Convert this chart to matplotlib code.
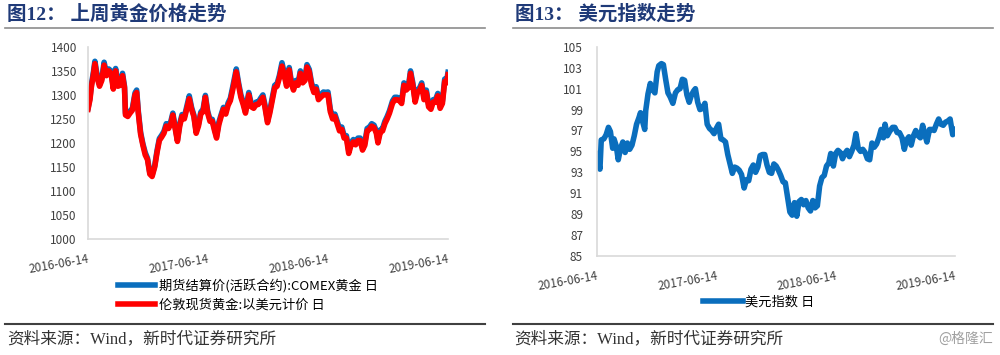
import pandas as pd
import matplotlib
matplotlib.use('Agg')
import matplotlib.pyplot as plt
import matplotlib.dates as mdates
from matplotlib.lines import Line2D

plt.rcParams['font.family'] = ['Noto Sans CJK SC', 'DejaVu Sans']

gold_dates = ['2016-06-14', '2016-06-20', '2016-06-24', '2016-07-01', '2016-07-05', '2016-07-12', '2016-07-19',
              '2016-07-26', '2016-08-02', '2016-08-09', '2016-08-16', '2016-08-23', '2016-08-30', '2016-09-06',
              '2016-09-13', '2016-09-20', '2016-09-27', '2016-10-03', '2016-10-06', '2016-10-13', '2016-10-20',
              '2016-10-27', '2016-11-04', '2016-11-09', '2016-11-14', '2016-11-21', '2016-11-28', '2016-12-05',
              '2016-12-12', '2016-12-19', '2016-12-26', '2017-01-03', '2017-01-10', '2017-01-17', '2017-01-24',
              '2017-01-31', '2017-02-07', '2017-02-14', '2017-02-21', '2017-02-27', '2017-03-06', '2017-03-13',
              '2017-03-20', '2017-03-27', '2017-04-03', '2017-04-10', '2017-04-18', '2017-04-25', '2017-05-02',
              '2017-05-09', '2017-05-16', '2017-05-23', '2017-05-30', '2017-06-06', '2017-06-13', '2017-06-20',
              '2017-06-27', '2017-07-04', '2017-07-10', '2017-07-17', '2017-07-24', '2017-07-31', '2017-08-07',
              '2017-08-14', '2017-08-21', '2017-08-28', '2017-09-08', '2017-09-15', '2017-09-22', '2017-09-29',
              '2017-10-06', '2017-10-16', '2017-10-24', '2017-10-31', '2017-11-07', '2017-11-14', '2017-11-21',
              '2017-11-28', '2017-12-04', '2017-12-12', '2017-12-19', '2017-12-27', '2018-01-03', '2018-01-10',
              '2018-01-17', '2018-01-25', '2018-02-01', '2018-02-08', '2018-02-16', '2018-02-22', '2018-03-01',
              '2018-03-08', '2018-03-15', '2018-03-22', '2018-03-29', '2018-04-05', '2018-04-11', '2018-04-18',
              '2018-04-25', '2018-05-02', '2018-05-09', '2018-05-16', '2018-05-23', '2018-05-31', '2018-06-07',
              '2018-06-14', '2018-06-21', '2018-06-28', '2018-07-05', '2018-07-12', '2018-07-19', '2018-07-26',
              '2018-08-02', '2018-08-09', '2018-08-16', '2018-08-23', '2018-08-30', '2018-09-06', '2018-09-13',
              '2018-09-20', '2018-09-27', '2018-10-04', '2018-10-11', '2018-10-18', '2018-10-25', '2018-11-01',
              '2018-11-08', '2018-11-13', '2018-11-20', '2018-11-27', '2018-12-04', '2018-12-11', '2018-12-18',
              '2018-12-27', '2019-01-03', '2019-01-10', '2019-01-17', '2019-01-24', '2019-01-31', '2019-02-07',
              '2019-02-14', '2019-02-20', '2019-02-27', '2019-03-06', '2019-03-13', '2019-03-20', '2019-03-26',
              '2019-04-02', '2019-04-09', '2019-04-16', '2019-04-23', '2019-04-30', '2019-05-07', '2019-05-14',
              '2019-05-21', '2019-05-28', '2019-06-04', '2019-06-10', '2019-06-14']

london_spot = [1270, 1290, 1315, 1345, 1365, 1335, 1318,
               1330, 1362, 1340, 1350, 1345, 1312, 1350,
               1318, 1320, 1340, 1315, 1258, 1255, 1262,
               1268, 1300, 1305, 1262, 1218, 1195, 1175,
               1165, 1135, 1130, 1150, 1180, 1205, 1212,
               1220, 1235, 1230, 1240, 1258, 1230, 1203,
               1235, 1255, 1250, 1270, 1292, 1270, 1255,
               1220, 1235, 1260, 1265, 1295, 1262, 1245,
               1245, 1225, 1210, 1238, 1255, 1270, 1260,
               1278, 1288, 1310, 1348, 1320, 1295, 1280,
               1262, 1300, 1275, 1272, 1280, 1280, 1288,
               1295, 1275, 1242, 1262, 1290, 1315, 1318,
               1335, 1360, 1340, 1318, 1352, 1325, 1310,
               1325, 1320, 1345, 1325, 1330, 1358, 1348,
               1320, 1305, 1312, 1290, 1295, 1300, 1300,
               1300, 1265, 1250, 1255, 1240, 1225, 1228,
               1210, 1210, 1178, 1195, 1202, 1196, 1205,
               1205, 1185, 1195, 1225, 1228, 1235, 1232,
               1220, 1200, 1222, 1225, 1240, 1250, 1262,
               1282, 1290, 1290, 1288, 1282, 1320, 1310,
               1315, 1345, 1320, 1285, 1305, 1310, 1320,
               1290, 1305, 1275, 1270, 1285, 1285, 1298,
               1272, 1282, 1328, 1325, 1342]

comex_gold = [1272, 1294, 1320, 1350, 1370, 1340, 1322,
              1334, 1368, 1345, 1354, 1350, 1316, 1355,
              1322, 1325, 1345, 1318, 1262, 1258, 1266,
              1272, 1304, 1310, 1266, 1222, 1198, 1180,
              1168, 1138, 1133, 1153, 1184, 1209, 1216,
              1224, 1240, 1234, 1245, 1262, 1234, 1206,
              1240, 1259, 1254, 1275, 1298, 1274, 1258,
              1224, 1239, 1264, 1270, 1299, 1266, 1249,
              1249, 1229, 1214, 1243, 1259, 1274, 1265,
              1283, 1293, 1316, 1354, 1325, 1300, 1285,
              1266, 1305, 1280, 1277, 1285, 1285, 1293,
              1300, 1280, 1246, 1267, 1296, 1320, 1323,
              1340, 1367, 1345, 1323, 1357, 1330, 1315,
              1330, 1325, 1350, 1330, 1335, 1363, 1353,
              1325, 1310, 1317, 1295, 1300, 1306, 1305,
              1306, 1270, 1255, 1260, 1245, 1230, 1233,
              1215, 1215, 1184, 1200, 1207, 1201, 1210,
              1210, 1190, 1200, 1230, 1233, 1240, 1237,
              1225, 1205, 1227, 1230, 1245, 1255, 1267,
              1287, 1295, 1295, 1293, 1287, 1325, 1315,
              1320, 1350, 1325, 1290, 1310, 1315, 1325,
              1295, 1310, 1280, 1275, 1290, 1290, 1303,
              1277, 1287, 1333, 1330, 1347]

dxy_dates = ['2016-06-14', '2016-06-17', '2016-06-23', '2016-06-27', '2016-07-05', '2016-07-12', '2016-07-19',
             '2016-07-25', '2016-08-01', '2016-08-05', '2016-08-12', '2016-08-18', '2016-08-25', '2016-09-01',
             '2016-09-08', '2016-09-15', '2016-09-22', '2016-09-29', '2016-10-06', '2016-10-13', '2016-10-20',
             '2016-10-25', '2016-11-01', '2016-11-07', '2016-11-10', '2016-11-17', '2016-11-24', '2016-12-01',
             '2016-12-08', '2016-12-15', '2016-12-20', '2016-12-28', '2017-01-03', '2017-01-10', '2017-01-17',
             '2017-01-24', '2017-02-01', '2017-02-09', '2017-02-16', '2017-02-23', '2017-03-02', '2017-03-09',
             '2017-03-16', '2017-03-23', '2017-03-30', '2017-04-06', '2017-04-11', '2017-04-18', '2017-04-25',
             '2017-05-02', '2017-05-10', '2017-05-17', '2017-05-24', '2017-05-31', '2017-06-07', '2017-06-14',
             '2017-06-21', '2017-06-28', '2017-07-05', '2017-07-12', '2017-07-19', '2017-07-26', '2017-08-02',
             '2017-08-09', '2017-08-16', '2017-08-23', '2017-08-30', '2017-09-07', '2017-09-14', '2017-09-21',
             '2017-09-28', '2017-10-05', '2017-10-12', '2017-10-19', '2017-10-26', '2017-11-02', '2017-11-09',
             '2017-11-16', '2017-11-23', '2017-11-30', '2017-12-07', '2017-12-14', '2017-12-21', '2017-12-28',
             '2018-01-04', '2018-01-11', '2018-01-18', '2018-01-25', '2018-02-01', '2018-02-08', '2018-02-15',
             '2018-02-22', '2018-03-01', '2018-03-08', '2018-03-15', '2018-03-22', '2018-03-29', '2018-04-05',
             '2018-04-12', '2018-04-19', '2018-04-26', '2018-05-03', '2018-05-10', '2018-05-17', '2018-05-24',
             '2018-05-30', '2018-06-07', '2018-06-14', '2018-06-21', '2018-06-28', '2018-07-05', '2018-07-12',
             '2018-07-19', '2018-07-26', '2018-08-02', '2018-08-09', '2018-08-15', '2018-08-22', '2018-08-29',
             '2018-09-05', '2018-09-12', '2018-09-19', '2018-09-26', '2018-10-03', '2018-10-10', '2018-10-17',
             '2018-10-24', '2018-10-31', '2018-11-07', '2018-11-12', '2018-11-19', '2018-11-26', '2018-12-05',
             '2018-12-12', '2018-12-19', '2018-12-26', '2019-01-03', '2019-01-10', '2019-01-17', '2019-01-24',
             '2019-01-31', '2019-02-07', '2019-02-14', '2019-02-21', '2019-02-28', '2019-03-07', '2019-03-14',
             '2019-03-20', '2019-03-28', '2019-04-04', '2019-04-11', '2019-04-18', '2019-04-25', '2019-05-02',
             '2019-05-09', '2019-05-16', '2019-05-23', '2019-05-30', '2019-06-04', '2019-06-07', '2019-06-11',
             '2019-06-14']

dxy = [94.8, 94.2, 93.3, 96.1, 96.2, 96.6, 97.3,
       96.9, 95.3, 96.2, 95.5, 94.2, 95.3, 95.9,
       94.9, 95.8, 95.2, 95.6, 96.5, 97.6, 98.2,
       98.7, 97.8, 97.1, 98.9, 100.5, 101.5, 100.9,
       100.6, 102.6, 103.2, 103.4, 103.3, 101.9, 100.6,
       100.2, 99.6, 100.6, 100.9, 101.0, 101.9, 101.8,
       100.4, 99.7, 100.4, 100.8, 101.0, 99.7, 99.0,
       99.1, 99.6, 97.6, 97.2, 97.0, 96.7, 97.2,
       97.6, 96.2, 96.1, 95.9, 94.7, 93.8, 92.9,
       93.5, 93.4, 93.2, 92.8, 91.5, 92.3, 92.2,
       93.3, 93.7, 93.0, 93.5, 94.6, 94.7, 94.7,
       93.7, 93.0, 92.9, 93.8, 93.6, 93.2, 92.7,
       92.1, 92.0, 90.6, 89.2, 88.9, 90.1, 88.8,
       90.2, 90.4, 89.9, 90.3, 89.6, 89.3, 90.3,
       89.6, 89.8, 91.7, 92.5, 92.7, 93.6, 93.9,
       94.8, 93.6, 94.8, 95.1, 94.9, 94.3, 94.8,
       95.1, 94.5, 95.0, 95.6, 96.7, 95.3, 95.0,
       95.2, 94.9, 94.3, 94.2, 95.8, 95.4, 95.7,
       96.3, 97.1, 96.3, 97.6, 96.5, 96.9, 97.3,
       97.3, 96.8, 96.8, 96.3, 95.2, 96.1, 96.4,
       95.6, 96.5, 97.0, 96.5, 96.3, 97.5, 96.6,
       95.9, 97.1, 97.1, 97.0, 97.6, 98.1, 97.6,
       97.5, 97.8, 97.9, 98.1, 97.2, 96.6, 96.8,
       97.1]

tick_dates = ['2016-06-14', '2017-06-14', '2018-06-14', '2019-06-14']
gold_yticks = [1000, 1050, 1100, 1150, 1200, 1250, 1300, 1350, 1400]
dxy_yticks = [85, 87, 89, 91, 93, 95, 97, 99, 101, 103, 105]

gold_x = pd.to_datetime(gold_dates)
dxy_x = pd.to_datetime(dxy_dates)
ticks = pd.to_datetime(tick_dates)

blue = '#0A6EBD'
red = '#FF0000'
navy = '#1F3A78'

fig = plt.figure(figsize=(10, 3.55), dpi=100)


def style_axis(ax, pad_y, pad_x):
    for s in ['top', 'right']:
        ax.spines[s].set_visible(False)
    for s in ['left', 'bottom']:
        ax.spines[s].set_color('#D9D9D9')
        ax.spines[s].set_linewidth(1.2)
    ax.tick_params(axis='both', length=0, labelsize=8.5, colors='#404040')
    ax.tick_params(axis='y', pad=pad_y)
    ax.tick_params(axis='x', pad=pad_x)
    ax.set_xticks(ticks)
    ax.xaxis.set_major_formatter(mdates.DateFormatter('%Y-%m-%d'))
    for lab in ax.get_xticklabels():
        lab.set_rotation(10)
        lab.set_ha('right')
        lab.set_va('top')
        lab.set_rotation_mode('anchor')
    ax.set_xlim(ticks[0], ticks[-1])


ax1 = fig.add_axes([0.088, 0.327, 0.360, 0.541])
ax1.plot(gold_x, comex_gold, color=blue, lw=4, solid_joinstyle='round',
         label='期货结算价(活跃合约):COMEX黄金 日')
ax1.plot(gold_x, london_spot, color=red, lw=4, solid_joinstyle='round',
         label='伦敦现货黄金:以美元计价 日')
ax1.set_ylim(1000, 1400)
ax1.set_yticks(gold_yticks)
style_axis(ax1, 8, 10)
ax1.legend(loc='upper left', bbox_to_anchor=(0.118, 0.214), bbox_transform=fig.transFigure,
           frameon=False, fontsize=9.5, handlelength=2.8, handletextpad=0.3,
           labelspacing=0.4, borderpad=0, borderaxespad=0)

ax2 = fig.add_axes([0.597, 0.279, 0.358, 0.589])
ax2.plot(dxy_x, dxy, color=blue, lw=4, solid_joinstyle='round', label='美元指数 日')
ax2.set_ylim(85, 105)
ax2.set_yticks(dxy_yticks)
style_axis(ax2, 10, 10)
ax2.legend(loc='upper left', bbox_to_anchor=(0.703, 0.167), bbox_transform=fig.transFigure,
           frameon=False, fontsize=9.5, handlelength=3.0, handletextpad=0.2,
           borderpad=0, borderaxespad=0)

# titles, rules and source lines
title_font = ['Liberation Serif', 'Noto Sans CJK SC']
fig.text(0.007, 1 - 14 / 355, '图12： 上周黄金价格走势', fontsize=14, fontweight='bold',
         color=navy, va='center', family=title_font)
fig.text(0.515, 1 - 14 / 355, '图13： 美元指数走势', fontsize=14, fontweight='bold',
         color=navy, va='center', family=title_font)
fig.add_artist(Line2D([0.005, 0.485], [1 - 28 / 355] * 2, color='#8C8C8C', lw=1.2))
fig.add_artist(Line2D([0.513, 0.993], [1 - 28 / 355] * 2, color='#8C8C8C', lw=1.2))
fig.add_artist(Line2D([0.005, 0.485], [1 - 324 / 355] * 2, color='#404040', lw=1.5))
fig.add_artist(Line2D([0.513, 0.993], [1 - 324 / 355] * 2, color='#404040', lw=1.5))
fig.text(0.007, 1 - 339 / 355, '资料来源：Wind，新时代证券研究所', fontsize=12,
         color='#333333', va='center', family=title_font)
fig.text(0.514, 1 - 339 / 355, '资料来源：Wind，新时代证券研究所', fontsize=12,
         color='#333333', va='center', family=title_font)
fig.text(0.993, 1 - 339 / 355, '@格隆汇', fontsize=10, color='#A0A0A0', ha='right', va='center')

fig.savefig('out.png', dpi=100)
